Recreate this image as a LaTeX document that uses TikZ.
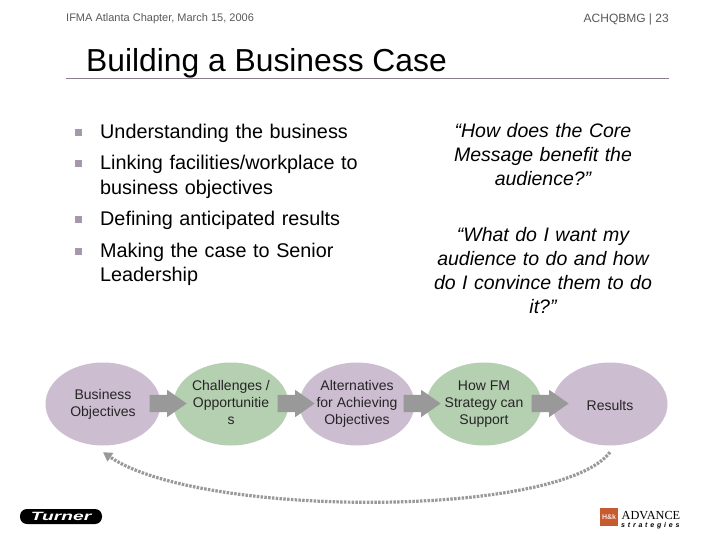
\documentclass[tikz,border=0pt]{standalone}
\usepackage{fontspec}
\setmainfont{Liberation Sans}
\newfontfamily\logoserif{Liberation Serif}
\usetikzlibrary{positioning, shapes.geometric, shapes.arrows, arrows.meta}

\definecolor{plum}{HTML}{CDBDD1}
\definecolor{sage}{HTML}{B5CFB1}
\definecolor{arrowgrey}{HTML}{999999}
\definecolor{rulecolor}{HTML}{8C7C90}
\definecolor{bulletcolor}{HTML}{A598AA}
\definecolor{brick}{HTML}{C85A30}

\newcommand{\stagestrut}{\rule[-2.4pt]{0pt}{17pt}}

\tikzset{
  stage/.style={ellipse, minimum width=115pt, minimum height=83pt, inner sep=0pt,
    align=center, font=\fontsize{14}{17}\selectfont, text=black!85,
    execute at begin node=\stagestrut, execute at end node=\stagestrut},
  purple stage/.style={stage, fill=plum},
  green stage/.style={stage, fill=sage},
  flow/.style={single arrow, fill=arrowgrey, anchor=tip, minimum height=37pt, inner xsep=0pt, inner ysep=8.5pt,
    single arrow head extend=5pt, single arrow tip angle=70},
  header/.style={font=\fontsize{11}{12}\selectfont, text=black!65},
  bullet/.style={font=\fontsize{19.8}{24.5}\selectfont, align=left, text width=280pt,
    anchor=north west, inner sep=0pt},
  mark box/.style={fill=bulletcolor, minimum size=7pt, inner sep=0pt},
  question/.style={font=\fontsize{19.5}{24}\selectfont\itshape, align=center, text width=225pt},
  loopback/.style={draw=arrowgrey, line width=3.2pt, dash pattern=on 2.5pt off 1.3pt,
    -{Triangle[length=9pt, width=10pt]}}
}

\begin{document}
\begin{tikzpicture}[x=1pt, y=-1pt]
  \useasboundingbox (0,0) rectangle (720,540);
  \fill[white] (0,0) rectangle (720,540);

  % header
  \node[header, anchor=west, inner sep=0pt] (event) at (66,19) {IFMA Atlanta Chapter, March 15, 2006};
  \node[header, anchor=east, inner sep=0pt, font=\fontsize{12}{12}\selectfont] (page) at (669,19) {ACHQBMG | 23};
  \node[anchor=base west, inner sep=0pt, font=\fontsize{31.8}{36}\selectfont] (title) at (86,72) {Building a Business Case};
  \draw[rulecolor, line width=0.8pt] (66,78) -- (669,78);

  % bullets
  \node[bullet] (b1) at (100,124) {Understanding the business};
  \node[bullet] (b2) at (100,155) {Linking facilities/workplace to\\business objectives};
  \node[bullet] (b3) at (100,211) {Defining anticipated results};
  \node[bullet] (b4) at (100,242.5) {Making the case to Senior\\Leadership};
  \node[mark box, left=18pt of b1.north west, yshift=-8.5pt] (m1) {};
  \node[mark box, left=18pt of b2.north west, yshift=-8.5pt] (m2) {};
  \node[mark box, left=18pt of b3.north west, yshift=-8.5pt] (m3) {};
  \node[mark box, left=18pt of b4.north west, yshift=-8.5pt] (m4) {};

  % questions
  \node[question] (q1) at (543,155) {“How does the Core\\Message benefit the\\audience?”};
  \node[question] (q2) at (543,271) {“What do I want my\\audience to do and how\\do I convince them to do\\it?”};

  % stages
  \node[purple stage] (objectives) at (103,404) {Business\\Objectives};
  \node[green stage] (challenges) at (231,404) {Challenges /\\Opportunitie\\s};
  \node[purple stage] (alternatives) at (357,404) {Alternatives\\for Achieving\\Objectives};
  \node[green stage] (strategy) at (484,404) {How FM\\Strategy can\\Support};
  \node[purple stage] (results) at (610,404) {Results};

  \node[flow] (f1) at (187,403.5) {};
  \node[flow] (f2) at (315,403.5) {};
  \node[flow] (f3) at (441,403.5) {};
  \node[flow] (f4) at (569,403.5) {};

  \coordinate (loop start) at ([yshift=-6.5pt]results.south);
  \coordinate (loop end) at ([yshift=-6.5pt]objectives.south);
  \draw[loopback] (loop start) .. controls +(-50,66) and +(97,66) .. (loop end);

  % logos
  \node[fill=black, rounded corners=7pt, minimum width=82pt, minimum height=15pt, inner sep=0pt,
    text=white, font=\fontsize{12}{12}\selectfont\bfseries\itshape\addfontfeature{FakeStretch=1.6}] (turner) at (61,516.5) {Turner};
  \node[fill=brick, minimum size=18pt, inner sep=0pt, text=white!85!brick,
    font=\fontsize{7}{7}\selectfont\bfseries] (mark) at (609,517) {H\&k};
  \node[anchor=base west, inner sep=0pt, font=\fontsize{12.3}{13}\logoserif] (advance) at (621.5,519) {ADVANCE};
  \node[anchor=base west, inner sep=0pt, font=\fontsize{7}{7}\selectfont\itshape\bfseries\addfontfeature{LetterSpace=40}] (strategies) at (621,527) {strategies};
\end{tikzpicture}
\end{document}
